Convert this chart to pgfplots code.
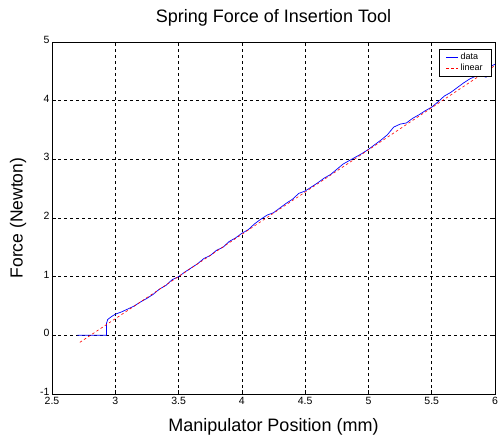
\documentclass[border=0pt]{standalone}
\usepackage{pgfplots}
\pgfplotsset{compat=1.18}
\usepackage{fontspec}
\setmainfont{Liberation Sans}
\usetikzlibrary{calc}
\begin{document}
\begin{tikzpicture}
\begin{axis}[name=ax,
  scale only axis, width=443pt, height=352pt,
  xmin=2.5, xmax=6, ymin=-1, ymax=5,
  xtick={2.5,3,3.5,4,4.5,5,5.5,6},
  xticklabels={2.5,3,3.5,4,4.5,5,5.5,6},
  ytick={-1,0,1,2,3,4,5},
  tick align=inside,
  major tick length=4pt,
  tick style={black, line width=0.5pt},
  grid=major,
  grid style={black, dashed, line width=0.5pt, dash pattern=on 3pt off 3pt},
  axis line style={black, line width=0.6pt},
  ticklabel style={font=\fontsize{10.5}{11}\selectfont},
  yticklabel style={xshift=1pt, yshift=2pt},
  /pgf/number format/assume math mode=true,
  title={Spring Force of Insertion Tool},
  every axis title/.style={at={(0.5,1)}, anchor=center, yshift=24pt, font=\fontsize{18}{20}\selectfont},
  xlabel={Manipulator Position (mm)},
  ylabel={Force (Newton)},
  every axis x label/.style={at={(0.5,0)}, anchor=center, yshift=-33pt, font=\fontsize{18}{20}\selectfont},
  every axis y label/.style={at={(0,0.5)}, anchor=center, rotate=90, yshift=34pt, font=\fontsize{17.5}{20}\selectfont},
  legend style={at={(0.993,0.98)}, anchor=north east, draw=black, line width=0.5pt,
    font=\fontsize{9}{10}\selectfont, inner xsep=7pt, inner ysep=2pt, row sep=-1pt,
    legend cell align=left},
  legend image code/.code={\draw[#1] (0pt,0pt) -- (12pt,0pt);},
]
\addplot[blue, line width=0.7pt] coordinates {
(2.70,0) (2.93,0) (2.93,0.20) (2.94,0.27) (2.97,0.32) (3.00,0.36) (3.05,0.40) (3.10,0.45)
(3.15,0.50) (3.20,0.57) (3.25,0.63) (3.30,0.70) (3.35,0.79) (3.40,0.85) (3.45,0.95)
(3.50,1.00) (3.55,1.08) (3.60,1.15) (3.65,1.22) (3.70,1.31) (3.75,1.36) (3.80,1.45)
(3.85,1.50) (3.90,1.60) (3.95,1.66) (4.00,1.74) (4.05,1.80) (4.10,1.90) (4.15,1.98)
(4.20,2.05) (4.25,2.09) (4.30,2.17) (4.35,2.25) (4.40,2.32) (4.45,2.42) (4.50,2.46)
(4.55,2.53) (4.60,2.60) (4.65,2.68) (4.70,2.74) (4.75,2.83) (4.80,2.92) (4.85,2.98)
(4.90,3.04) (4.95,3.10) (5.00,3.17) (5.05,3.25) (5.10,3.33) (5.15,3.42) (5.20,3.55)
(5.25,3.60) (5.30,3.62) (5.35,3.70) (5.40,3.76) (5.45,3.83) (5.50,3.89) (5.55,3.98)
(5.60,4.08) (5.65,4.14) (5.70,4.22) (5.75,4.30) (5.80,4.37) (5.85,4.42) (5.90,4.42)
(5.93,4.40) (5.96,4.58) (6.00,4.62)
};
\addlegendentry{data}
\addplot[red, dashed, line width=0.6pt, dash pattern=on 2.5pt off 2.5pt] coordinates {
(2.72,-0.12) (6.00,4.60)
};
\addlegendentry{linear}
\end{axis}
\pgfresetboundingbox
\path ($(ax.south west)+(-52pt,-44pt)$) rectangle ($(ax.north east)+(3pt,42pt)$);
\end{tikzpicture}
\end{document}
